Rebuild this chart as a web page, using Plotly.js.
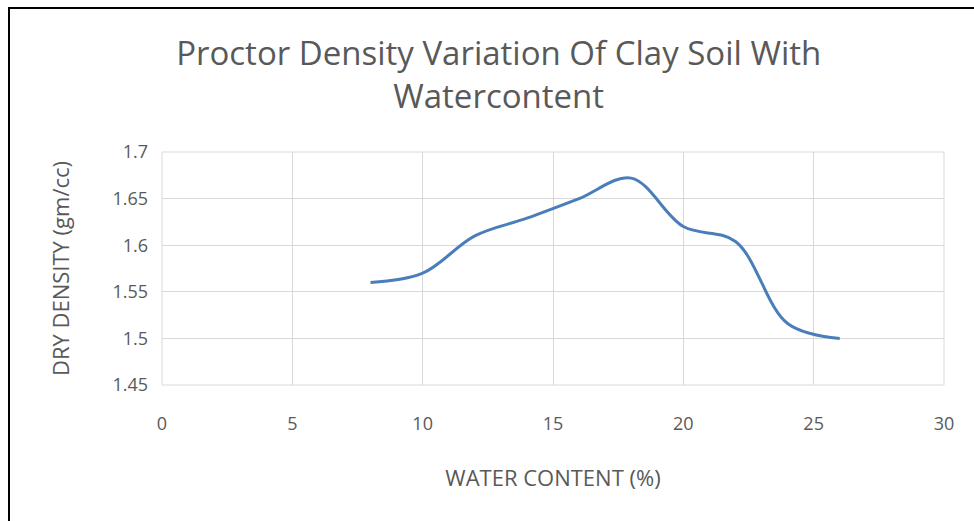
<!DOCTYPE html>
<html>
<head>
<meta charset="utf-8">
<script src="https://cdn.plot.ly/plotly-3.0.1.min.js"></script>
<style>
html,body{margin:0;padding:0;background:#fff;}
#chart{width:974px;height:521px;position:relative;}
#frame{position:absolute;left:8px;top:7px;width:966px;height:514px;border-top:2px solid #000;border-left:2px solid #000;pointer-events:none;z-index:10;}
</style>
</head>
<body>
<div id="chart"></div>
<div id="frame"></div>
<script>
const waterContent = [8, 10, 12, 14, 16, 18, 20, 22, 24, 26];
const dryDensity = [1.56, 1.57, 1.61, 1.629, 1.65, 1.672, 1.62, 1.604, 1.516, 1.50];
const xTicks = [0, 5, 10, 15, 20, 25, 30];
const yTicks = [1.45, 1.5, 1.55, 1.6, 1.65, 1.7];
const yTickText = ['1.45', '1.5', '1.55', '1.6', '1.65', '1.7'];

const font = "Open Sans, Noto Sans, sans-serif";
const trace = {
  x: waterContent,
  y: dryDensity,
  type: 'scatter',
  mode: 'lines',
  line: {color: '#4a7ebb', width: 3, shape: 'spline', smoothing: 1},
  hoverinfo: 'x+y'
};
const layout = {
  width: 974, height: 521,
  margin: {l: 162, r: 30, t: 152, b: 136},
  paper_bgcolor: '#fff', plot_bgcolor: '#fff',
  showlegend: false,
  title: {
    text: 'Proctor Density Variation Of Clay Soil With<br>Watercontent',
    font: {family: font, size: 33, color: '#595959'},
    x: 0.512, xanchor: 'center', y: 0.876, yanchor: 'top'
  },
  xaxis: {
    range: [0, 30], tickvals: xTicks, ticktext: xTicks.map(String),
    showgrid: true, gridcolor: '#d9d9d9', gridwidth: 1,
    zeroline: false, showline: false, ticks: '',
    tickfont: {family: font, size: 18, color: '#595959'},
    ticklabelstandoff: 26,
    title: {text: 'WATER CONTENT (%)', font: {family: font, size: 22, color: '#595959'}, standoff: 36}
  },
  yaxis: {
    range: [1.45, 1.7], tickvals: yTicks, ticktext: yTickText,
    showgrid: true, gridcolor: '#d9d9d9', gridwidth: 1,
    zeroline: false, showline: false, ticks: '',
    tickfont: {family: font, size: 18, color: '#595959'},
    ticklabelstandoff: 13,
    title: {text: 'DRY DENSITY (gm/cc)', font: {family: font, size: 22, color: '#595959'}, standoff: 36}
  },
  shapes: [
    {type: 'rect', xref: 'paper', yref: 'paper', x0: 0, x1: 1, y0: 0, y1: 1, line: {color: '#d9d9d9', width: 1}}
  ]
};
Plotly.newPlot('chart', [trace], layout, {displayModeBar: false, staticPlot: true});
</script>
</body>
</html>
